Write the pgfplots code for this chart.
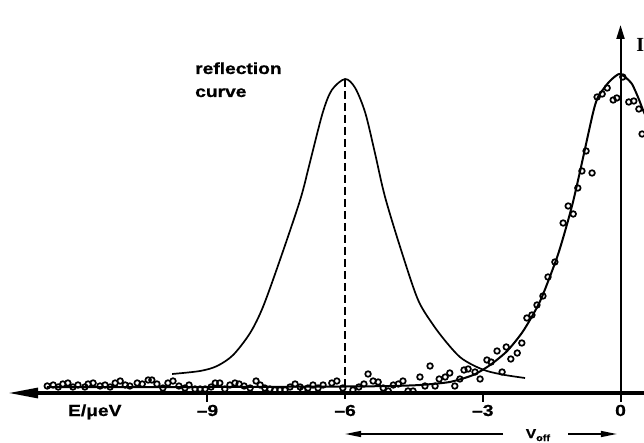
\documentclass[border=0pt]{standalone}
\usepackage{fontspec}
\setmainfont{Liberation Sans}
\newfontfamily\lab{Liberation Sans}[FakeStretch=1.2, BoldFeatures={FakeBold=0.8}]
\newfontfamily\ser{Liberation Serif}
\usepackage{pgfplots}
\pgfplotsset{compat=1.18}
\usetikzlibrary{arrows.meta}
\newcommand{\umu}{\symbol{"03BC}}
\newcommand{\mn}{\symbol{"2013}}

\begin{document}
\begin{tikzpicture}
\begin{axis}[name=ax, scale only axis, width=644pt, height=442pt,
  xmin=-13.519, xmax=0.512, ymin=-49, ymax=393, axis lines=none, clip=false]
% axes
\draw[line width=3.2pt, -{Triangle[length=30pt,width=10pt]}] (axis cs:0.7,0) -- (axis cs:-13.34,0);
\draw[line width=2pt, -{Triangle[length=14pt,width=8pt]}] (axis cs:0,-9) -- (axis cs:0,368);
\draw[line width=2pt] (axis cs:-9,0) -- (axis cs:-9,-9);
\draw[line width=2pt] (axis cs:-3,0) -- (axis cs:-3,-9);
% reflection curve
\addplot[black, line width=1.7pt, smooth, tension=0.5] coordinates {
(-9.77,19) (-9.16,22) (-8.79,27) (-8.44,38) (-8.07,60) (-7.79,86) (-7.42,133)
(-6.98,193) (-6.77,230) (-6.49,280) (-6.29,303) (-6.0,314) (-5.78,305)
(-5.56,280) (-5.35,240) (-5.13,196) (-4.76,140) (-4.41,93) (-4.08,68)
(-3.78,50) (-3.50,36) (-3.22,28) (-2.91,22) (-2.52,18) (-2.08,15)};
\addplot[black, line width=1.8pt, dash pattern=on 8pt off 4pt] coordinates {(-6,314) (-6,-9)};
% fit curve
\addplot[black, line width=2pt, smooth, tension=0.4] coordinates {
(-12.5,6) (-9,6) (-6,6.5) (-5,7) (-4.37,8) (-3.72,11) (-3.21,18) (-2.84,28)
(-2.47,42) (-2.12,62) (-1.75,92) (-1.38,136) (-1.17,168) (-1.03,192)
(-0.88,222) (-0.60,280) (-0.49,296) (-0.29,309) (-0.16,315) (-0.03,319)
(0.10,316) (0.25,309) (0.38,296) (0.49,283) (0.56,276)};
% measured points
\addplot[black, only marks, mark=o, mark size=2.8pt, mark options={line width=1.7pt}] coordinates {
(-12.49,7) (-12.36,8) (-12.25,6) (-12.15,9) (-12.04,10) (-11.93,6) (-11.82,8)
(-11.67,6) (-11.60,9) (-11.49,10) (-11.34,7) (-11.23,8) (-11.12,6) (-11.01,10)
(-10.90,12) (-10.79,8) (-10.69,7) (-10.53,10) (-10.42,9) (-10.29,13)
(-10.21,13) (-10.10,9) (-9.97,5) (-9.86,10) (-9.75,12) (-9.62,7) (-9.49,5)
(-9.40,8) (-9.27,4) (-9.16,4) (-9.05,4) (-8.92,6) (-8.83,10) (-8.73,10)
(-8.62,4) (-8.51,8) (-8.40,10) (-8.31,9) (-8.20,7) (-8.07,5) (-7.94,12)
(-7.85,8) (-7.75,5) (-7.64,4) (-7.53,3) (-7.42,3) (-7.31,3) (-7.20,6)
(-7.09,9) (-6.98,6) (-6.92,3) (-6.81,5) (-6.70,8) (-6.59,5) (-6.48,8)
(-6.29,10) (-6.18,12) (-6.05,5)
(-5.83,3) (-5.70,6) (-5.59,9) (-5.50,19) (-5.39,12) (-5.28,11) (-5.17,5)
(-5.06,2) (-4.95,8) (-4.84,9) (-4.74,12) (-4.63,2) (-4.52,2) (-4.37,16)
(-4.26,7) (-4.15,27) (-4.04,7) (-3.95,14) (-3.82,16) (-3.72,20) (-3.61,7)
(-3.50,14) (-3.41,23) (-3.32,24) (-3.17,21) (-3.06,14) (-2.91,33)
(-2.82,31) (-2.69,42) (-2.58,21) (-2.49,46) (-2.39,34) (-2.25,40) (-2.15,50)
(-2.04,75) (-1.93,78) (-1.82,88) (-1.69,97) (-1.58,116) (-1.43,131)
(-1.25,170) (-1.14,187) (-1.03,179)
(-0.93,205) (-0.84,222) (-0.75,242) (-0.62,220) (-0.51,296) (-0.40,299)
(-0.29,305) (-0.16,293) (-0.08,295) (0.05,316) (0.18,291) (0.29,292)
(0.40,284) (0.47,259)};
\draw[line width=2pt] (axis cs:0,0) -- (axis cs:0,-9);
% labels
\node[font=\lab\bfseries\fontsize{16}{16}\selectfont, inner sep=0, anchor=base] at (axis cs:-9,-23) {\mn9};
\node[font=\lab\bfseries\fontsize{16}{16}\selectfont, inner sep=0, anchor=base] at (axis cs:-6,-23) {\mn6};
\node[font=\lab\bfseries\fontsize{16}{16}\selectfont, inner sep=0, anchor=base] at (axis cs:-3,-23) {\mn3};
\node[font=\lab\bfseries\fontsize{16}{16}\selectfont, inner sep=0, anchor=base] at (axis cs:0,-23) {0};
\node[font=\lab\bfseries\fontsize{16}{16}\selectfont, inner sep=0, anchor=base west] at (axis cs:-12.04,-23) {E/\umu eV};
\node[font=\lab\bfseries\fontsize{16}{16}\selectfont, inner sep=0, anchor=base west] at (axis cs:-9.27,319) {reflection};
\node[font=\lab\bfseries\fontsize{16}{16}\selectfont, inner sep=0, anchor=base west] at (axis cs:-9.27,296) {curve};
\node[font=\ser\bfseries\fontsize{20}{20}\selectfont, inner sep=0, anchor=base west] at (axis cs:0.34,341) {I};
% V_off
\draw[line width=1.4pt, -{Triangle[length=16pt,width=6pt]}] (axis cs:-2.56,-41) -- (axis cs:-6,-41);
\draw[line width=1.4pt, -{Triangle[length=16pt,width=6pt]}] (axis cs:-1.14,-41) -- (axis cs:-0.08,-41);
\node[font=\lab\bfseries\fontsize{13}{13}\selectfont, inner sep=0, anchor=base] at (axis cs:-1.80,-45) {V\raisebox{-3pt}{\fontsize{9}{9}\selectfont off}};
\end{axis}
\pgfresetboundingbox
\useasboundingbox (ax.south west) rectangle (ax.north east);
\end{tikzpicture}
\end{document}
